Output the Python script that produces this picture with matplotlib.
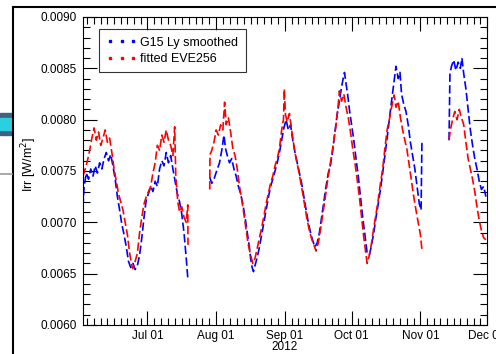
import numpy as np
import matplotlib
matplotlib.use("Agg")
import matplotlib.pyplot as plt
import matplotlib.dates as mdates
from matplotlib.lines import Line2D
from matplotlib.patches import Rectangle
from matplotlib.ticker import MultipleLocator, FixedLocator, FuncFormatter

plt.rcParams['font.family'] = ['Liberation Sans', 'DejaVu Sans']

# ---------------- data (days since 2012-06-02, irradiance W/m^2) ----------------
start_date = '2012-06-02'
end_date = '2012-12-01'
nan = np.nan

g15_days = [0, 0.5, 1.5, 2.5, 3.5, 4.5, 5.5, 6.5, 7.5, 8.5, 9.5, 10.5, 11.5, 12.5, 13.5,
            14.5, 15.5, 16.5, 17.5, 18.5, 19.5, 20.5, 21.5, 22.5, 23.5, 24.5, 25.5, 26.5,
            27.5, 28.5, 29.5, 30.5, 31.5, 32.5, 33.5, 34.5, 35.5, 36.5, 37.5, 38.5, 39.5,
            40.5, 41.5, 42.5, 43.5, 44.5, 45.5, 46.5, 47.2, 50,
            57.1, 58, 59, 60.2, 61.5, 62.5, 63.5, 64.2, 65, 66, 67, 68, 69, 70, 71, 72, 73,
            74, 75, 75.5, 76.2, 76.8, 77.5, 78.5, 79.5, 80.5, 81.5, 82.5, 83.5, 84.5, 85.5,
            86.5, 87.5, 88.5, 89.5, 90.5, 91.5, 92.5, 93.5, 94.5, 95.5, 96.5, 97.5, 98.5,
            99.5, 100.5, 101.5, 102.5, 103.5, 104.5, 105.5, 106.5, 107.5, 108.5, 109.5,
            110.5, 111.5, 112.5, 113.5, 114.5, 115.5, 116.5, 117.2, 117.8, 118.5, 119.2,
            120, 121, 122, 123, 124, 125, 126, 127, 128, 129, 130, 131, 132, 133, 134, 135,
            136, 137, 138, 139, 140, 141, 142, 142.8, 143.5, 144.5, 145.5, 146.5, 147.5,
            148.5, 149.5, 150.5, 151.5, 152.3, 152.7, 158,
            164.9, 165.3, 166, 167, 168, 169, 170, 170.7, 171.5, 172.5, 173.5, 174.5, 175.5,
            176.5, 177.5, 178.5, 179.5, 180.5, 181.5]
g15_irr = [0.00715, 0.00735, 0.00748, 0.00742, 0.00752, 0.00745, 0.00755, 0.00748, 0.00758,
           0.00752, 0.00762, 0.00768, 0.00760, 0.00766, 0.00755, 0.00742, 0.00725, 0.00712,
           0.00698, 0.00688, 0.00676, 0.00662, 0.00656, 0.00660, 0.00654, 0.00658, 0.00668,
           0.00685, 0.00705, 0.00722, 0.00728, 0.00735, 0.00730, 0.00740, 0.00735, 0.00752,
           0.00760, 0.00755, 0.00768, 0.00758, 0.00765, 0.00752, 0.00740, 0.00728, 0.00720,
           0.00708, 0.00690, 0.00665, 0.00646, nan,
           0.00744, 0.00738, 0.00742, 0.00750, 0.00758, 0.00770, 0.00785, 0.00772, 0.00765,
           0.00758, 0.00762, 0.00752, 0.00745, 0.00735, 0.00728, 0.00718, 0.00705, 0.00690,
           0.00675, 0.00665, 0.00656, 0.00652, 0.00658, 0.00666, 0.00676, 0.00688, 0.00700,
           0.00712, 0.00724, 0.00735, 0.00742, 0.00750, 0.00758, 0.00768, 0.00780, 0.00792,
           0.00800, 0.00790, 0.00795, 0.00780, 0.00768, 0.00758, 0.00748, 0.00738, 0.00725,
           0.00712, 0.00700, 0.00690, 0.00682, 0.00676, 0.00680, 0.00690, 0.00705, 0.00720,
           0.00735, 0.00748, 0.00756, 0.00770, 0.00788, 0.00805, 0.00818, 0.00832, 0.00840,
           0.00846, 0.00835, 0.00825, 0.00810, 0.00795, 0.00780, 0.00762, 0.00745, 0.00725,
           0.00705, 0.00688, 0.00670, 0.00668, 0.00678, 0.00690, 0.00705, 0.00718, 0.00732,
           0.00748, 0.00765, 0.00782, 0.00800, 0.00818, 0.00835, 0.00852, 0.00840, 0.00846,
           0.00825, 0.00815, 0.00808, 0.00795, 0.00778, 0.00765, 0.00752, 0.00735, 0.00718,
           0.00712, 0.00780, nan,
           0.00780, 0.00845, 0.00852, 0.00858, 0.00848, 0.00856, 0.00850, 0.00860, 0.00845,
           0.00830, 0.00810, 0.00790, 0.00775, 0.00762, 0.00752, 0.00740, 0.00732, 0.00735,
           0.00725]

eve_days = [0, 1, 2, 3, 4, 5, 6, 7, 8, 9, 10, 11, 12, 13, 14, 15, 16, 17, 18, 19, 20, 21, 22,
            22.5, 23.5, 24.5, 25.5, 26.5, 27.5, 28.5, 29.5, 30.5, 31.5, 32.5, 33.5, 34.5,
            35.5, 36.5, 37.5, 38.5, 39.5, 40.5, 41.3, 41.8, 42.7, 43.5, 44.5, 45.5, 46.5,
            47.2, 47.3, 50,
            57.1, 57.2, 58, 59, 60, 61, 62, 63, 63.8, 64.5, 65.5, 66.5, 67.5, 68.5, 69.5,
            70.5, 71.5, 72.5, 73.5, 74.5, 75.5, 76.5, 77.5, 78.5, 79.5, 80.5, 81.5, 82.5,
            83.5, 84.5, 85.5, 86.5, 87.5, 88.5, 89.5, 90.3, 90.7, 91.2, 92, 93, 94, 95, 96,
            97, 98, 99, 100, 101, 102, 103, 104, 105, 106, 107, 108, 109, 110, 111, 112, 113,
            114, 115, 115.5, 116.5, 117.5, 118.5, 119.5, 120.5, 121.5, 122.5, 123.5, 124.5,
            125.5, 126.5, 127.5, 128, 129, 130, 131, 132, 133, 134, 135, 136, 137, 138, 139,
            140.2, 141, 142, 143, 144, 145, 146, 147, 148, 149, 150, 151, 152, 152.7, 158,
            164.9, 165.5, 166.5, 167.5, 168.5, 169.5, 170.5, 171.5, 172.5, 173.5, 174.5,
            175.5, 176.5, 177.5, 178.5, 179.5, 180.5, 181.5]
eve_irr = [0.00745, 0.00752, 0.00760, 0.00770, 0.00782, 0.00792, 0.00780, 0.00788, 0.00775,
           0.00782, 0.00790, 0.00778, 0.00782, 0.00768, 0.00752, 0.00740, 0.00728, 0.00720,
           0.00712, 0.00700, 0.00688, 0.00670, 0.00658, 0.00655, 0.00662, 0.00670, 0.00690,
           0.00705, 0.00718, 0.00725, 0.00730, 0.00735, 0.00748, 0.00758, 0.00775, 0.00770,
           0.00785, 0.00778, 0.00790, 0.00780, 0.00775, 0.00765, 0.00793, 0.00745, 0.00720,
           0.00710, 0.00715, 0.00705, 0.00700, 0.00717, 0.00678, nan,
           0.00732, 0.00766, 0.00770, 0.00778, 0.00790, 0.00785, 0.00795, 0.00790, 0.00817,
           0.00795, 0.00802, 0.00788, 0.00772, 0.00765, 0.00752, 0.00735, 0.00722, 0.00708,
           0.00692, 0.00678, 0.00668, 0.00660, 0.00665, 0.00675, 0.00685, 0.00695, 0.00706,
           0.00718, 0.00728, 0.00738, 0.00745, 0.00755, 0.00762, 0.00772, 0.00790, 0.00800,
           0.00830, 0.00805, 0.00798, 0.00806, 0.00790, 0.00775, 0.00762, 0.00752, 0.00740,
           0.00728, 0.00715, 0.00702, 0.00692, 0.00684, 0.00678, 0.00672, 0.00680, 0.00693,
           0.00708, 0.00722, 0.00738, 0.00752, 0.00765, 0.00780, 0.00795, 0.00815, 0.00828,
           0.00818, 0.00825, 0.00812, 0.00802, 0.00788, 0.00772, 0.00758, 0.00742, 0.00725,
           0.00705, 0.00685, 0.00668, 0.00660, 0.00668, 0.00680, 0.00695, 0.00708, 0.00722,
           0.00738, 0.00752, 0.00772, 0.00790, 0.00800, 0.00812, 0.00824, 0.00812, 0.00818,
           0.00802, 0.00790, 0.00780, 0.00770, 0.00755, 0.00740, 0.00725, 0.00712, 0.00700,
           0.00688, 0.00673, nan,
           0.00780, 0.00790, 0.00800, 0.00808, 0.00800, 0.00810, 0.00802, 0.00795, 0.00778,
           0.00762, 0.00752, 0.00742, 0.00730, 0.00715, 0.00702, 0.00692, 0.00685, 0.00683]

series_labels = ['G15 Ly smoothed', 'fitted EVE256']
series_colors = ['#0000ff', '#ff0000']
y_min, y_max = 0.0060, 0.0090
year_label = '2012'
y_label = 'Irr [W/m$^2$]'

# ---------------- figure ----------------
fig = plt.figure(figsize=(4.96, 3.54), dpi=100)
W, H = 496, 354
ax = fig.add_axes([83 / W, 1 - 325 / H, 404 / W, 308 / H])

base = mdates.date2num(np.datetime64(start_date))
xend = mdates.date2num(np.datetime64(end_date))

dash = (0, (5, 2))
ax.plot(base + np.array(g15_days), g15_irr, color=series_colors[0], lw=1.2, ls=dash)
ax.plot(base + np.array(eve_days), eve_irr, color=series_colors[1], lw=1.2, ls=dash)

ax.set_xlim(base, xend)
ax.set_ylim(y_min, y_max)

# x ticks: month starts, minor = tenths of each month
ax.xaxis.set_major_locator(mdates.MonthLocator())
ax.xaxis.set_major_formatter(mdates.DateFormatter('%b %d'))
minors = []
months = np.arange(np.datetime64('2012-06'), np.datetime64('2012-12'))
for m in months:
    m0 = mdates.date2num(m.astype('datetime64[D]'))
    m1 = mdates.date2num((m + 1).astype('datetime64[D]'))
    for k in range(1, 10):
        minors.append(m0 + k * (m1 - m0) / 10.0)
ax.xaxis.set_minor_locator(FixedLocator(minors))

ax.yaxis.set_major_locator(MultipleLocator(0.0005))
ax.yaxis.set_minor_locator(MultipleLocator(0.0001))
ax.yaxis.set_major_formatter(FuncFormatter(lambda v, p: f'{v:.4f}'))

ax.tick_params(which='both', direction='in', top=True, right=True, width=0.8,
               labelsize=8.5, colors='black')
ax.tick_params(which='major', length=10)
ax.tick_params(which='minor', length=5)
ax.tick_params(axis='x', pad=3.5)
ax.tick_params(axis='y', pad=4.5)
for s in ax.spines.values():
    s.set_linewidth(0.8)

ax.set_ylabel(y_label, fontsize=9)
ax.yaxis.set_label_coords(-0.11, 0.52)

ax.annotate(year_label, xy=(0.5, 0), xycoords='axes fraction', xytext=(0, -16),
            textcoords='offset points', ha='center', va='center', fontsize=8.5)

handles = [Line2D([], [], ls='none', marker='s', ms=1.6, mec=c, mfc=c) for c in series_colors]
leg = ax.legend(handles, series_labels, loc='upper left', bbox_to_anchor=(0.04, 0.961),
                borderaxespad=0, numpoints=3, handlelength=2.4, handletextpad=0.3,
                fontsize=9, frameon=True, fancybox=False, labelspacing=0.35,
                borderpad=0.6)
leg.get_frame().set_edgecolor('black')
leg.get_frame().set_linewidth(0.8)

# screenshot surroundings
fig.add_artist(Line2D([13 / W, 13 / W], [0, 1 - 7 / H], color='black', lw=1.5,
                      transform=fig.transFigure))
fig.add_artist(Line2D([13 / W, 1], [1 - 7 / H, 1 - 7 / H], color='black', lw=1.5,
                      transform=fig.transFigure))
fig.add_artist(Rectangle((0, 1 - 135 / H), 12 / W, 22 / H, color='#3f6182',
                         transform=fig.transFigure))
fig.add_artist(Rectangle((0, 1 - 130 / H), 12 / W, 12 / H, color='#2bd0e0',
                         transform=fig.transFigure))
fig.add_artist(Line2D([0, 12 / W], [1 - 174 / H, 1 - 174 / H], color='#9a9a9a', lw=1.2,
                      transform=fig.transFigure))

fig.savefig('out.png', dpi=100)
